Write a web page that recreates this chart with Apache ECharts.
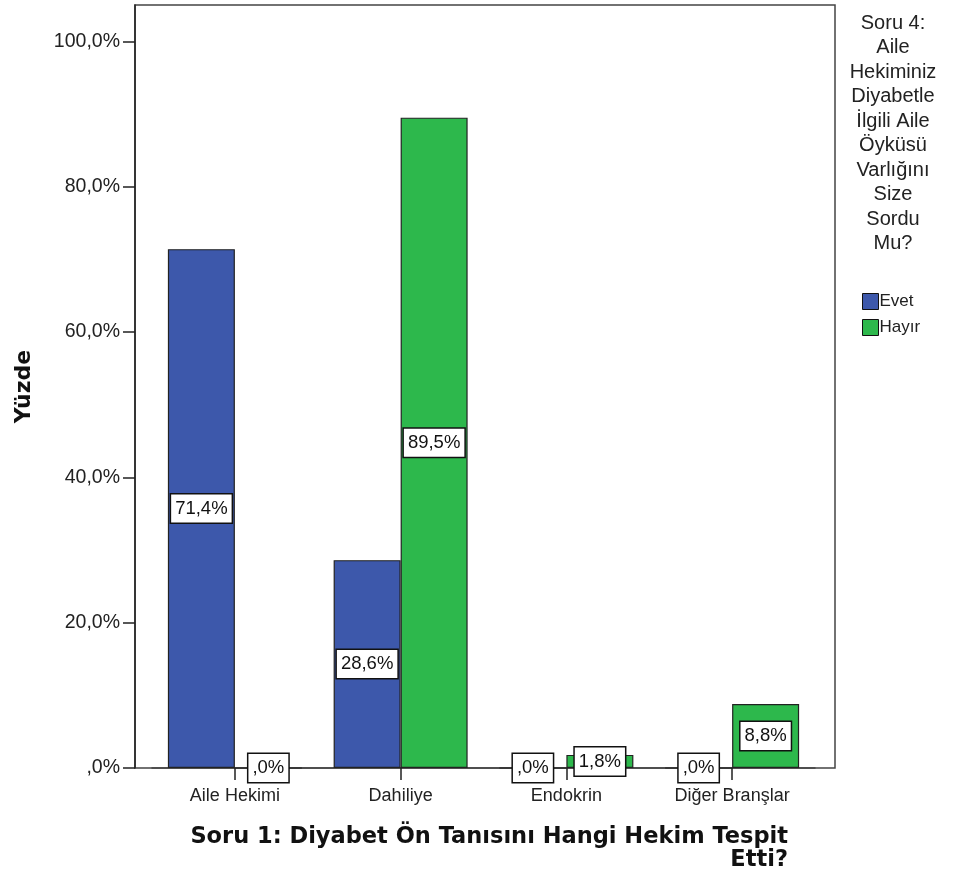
<!DOCTYPE html>
<html><head><meta charset="utf-8">
<script src="https://cdn.jsdelivr.net/npm/echarts@6/dist/echarts.min.js"></script>
<style>html,body{margin:0;padding:0;background:#fff}#c{width:955px;height:879px}</style>
</head><body><div id="c"></div>
<script>
const categories = ['Aile Hekimi', 'Dahiliye', 'Endokrin', 'Diğer Branşlar'];
const evetValues = [71.4, 28.6, 0.0, 0.0];
const hayirValues = [0.0, 89.5, 1.8, 8.8];
const seriesNames = ['Evet', 'Hayır'];
const yTicks = [0, 20, 40, 60, 80, 100];
const xTitle = 'Soru 1: Diyabet Ön Tanısını Hangi Hekim Tespit\nEtti?';
const yTitle = 'Yüzde';
const legendTitle = 'Soru 4:\nAile\nHekiminiz\nDiyabetle\nİlgili Aile\nÖyküsü\nVarlığını\nSize\nSordu\nMu?';

const FONT = 'Liberation Sans, Arial, sans-serif';
const BOLD = 'DejaVu Sans, Verdana, sans-serif';
const fmt = v => (v === 0 ? ',0' : v.toFixed(1).replace('.', ',')) + '%';

const labelCfg = {
  show: true, position: 'inside', formatter: p => fmt(p.value),
  color: '#111', fontFamily: FONT, fontSize: 18.5,
  backgroundColor: '#fff', borderColor: '#111', borderWidth: 1.5,
  padding: [5, 4, 4, 4]
};

const chart = echarts.init(document.getElementById('c'), null, {renderer: 'canvas'});
chart.setOption({
  animation: false,
  backgroundColor: '#fff',
  grid: [
    {left: 152, right: 140, top: 5, bottom: 111},
    {left: 135, right: 120, top: 5, bottom: 111, show: true, borderColor: '#444', borderWidth: 1.5, backgroundColor: 'transparent', z: 0}
  ],
  xAxis: [
    {type: 'category', gridIndex: 0, data: categories,
     axisLine: {show: true, lineStyle: {color: '#444', width: 1.5}},
     axisTick: {show: true, alignWithLabel: true, length: 12, lineStyle: {color: '#222', width: 1.5}},
     axisLabel: {color: '#222', fontFamily: FONT, fontSize: 18, margin: 19}},
    {type: 'value', gridIndex: 1, show: false, min: 0, max: 1}
  ],
  yAxis: [
    {type: 'value', gridIndex: 0, min: 0, max: 105, interval: 20, offset: 17,
     name: yTitle, nameLocation: 'middle', nameGap: 100,
     nameTextStyle: {fontFamily: BOLD, fontWeight: 'bold', fontSize: 22, color: '#111'},
     axisLine: {show: true, lineStyle: {color: '#222', width: 1.5}},
     axisTick: {show: true, length: 12, customValues: yTicks, lineStyle: {color: '#222', width: 1.5}},
     splitLine: {show: false},
     axisLabel: {color: '#222', fontFamily: FONT, fontSize: 19.5, margin: 15, customValues: yTicks,
       formatter: v => fmt(v)}},
    {type: 'value', gridIndex: 1, show: false, min: 0, max: 1}
  ],
  legend: {
    orient: 'vertical', left: 862, top: 293, padding: 0, itemWidth: 16, itemHeight: 16, itemGap: 9,
    icon: 'rect', data: seriesNames,
    textStyle: {fontFamily: FONT, fontSize: 17, color: '#222', padding: [0, 0, 0, -4]},
    itemStyle: {borderColor: '#111', borderWidth: 1}
  },
  graphic: [
    {type: 'text', x: 893, y: 11, style: {text: legendTitle, fill: '#222', font: '20px ' + FONT, textAlign: 'center', lineHeight: 24.5}},
    {type: 'text', x: 788, y: 826, style: {text: xTitle, fill: '#111', font: 'bold 22.5px ' + BOLD, textAlign: 'right', lineHeight: 23}}
  ],
  series: [
    {name: seriesNames[0], type: 'bar', xAxisIndex: 0, yAxisIndex: 0, data: evetValues,
     barWidth: 67, barGap: '0%',
     itemStyle: {color: '#3d58ab', borderColor: '#222', borderWidth: 1.2},
     label: labelCfg},
    {name: seriesNames[1], type: 'bar', xAxisIndex: 0, yAxisIndex: 0, data: hayirValues,
     barWidth: 67, barGap: '0%',
     itemStyle: {color: '#2db84c', borderColor: '#222', borderWidth: 1.2},
     label: labelCfg}
  ]
});
</script></body></html>
